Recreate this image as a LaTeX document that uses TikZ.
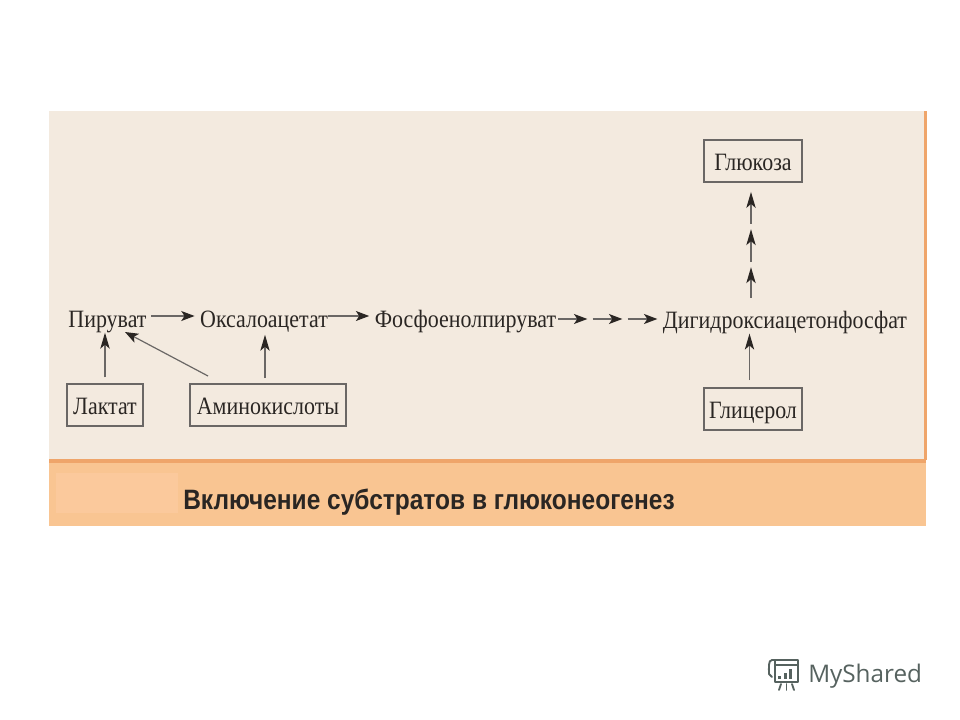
\documentclass[tikz,border=0pt]{standalone}
\usepackage{fontspec}
\setmainfont[FakeStretch=0.88]{Liberation Serif}
\newfontfamily\titlefont[FakeStretch=0.875]{Liberation Sans}
\newfontfamily\logofont{Open Sans}
\usetikzlibrary{arrows.meta}
\definecolor{panel}{HTML}{F3EADF}
\definecolor{band}{HTML}{F9C592}
\definecolor{bandlight}{HTML}{FBC99C}
\definecolor{edge}{HTML}{EFA56A}
\definecolor{ink}{HTML}{2A2623}
\definecolor{logoc}{HTML}{56625F}
\tikzset{
  lab/.style={font=\fontsize{18.7}{20}\selectfont, text=ink, inner sep=0pt, anchor=base},
  boxed/.style={font=\fontsize{18.7}{20}\selectfont, text=ink, inner sep=0pt, anchor=center, text height=16pt, text depth=2pt, draw=ink!70, line width=0.9pt, fill=panel, minimum height=31.5pt},
  arr/.style={draw=ink!70, line width=0.9pt, -{Stealth[length=10pt,width=7.5pt,inset=2.5pt,color=ink,fill=ink]}},
  varr/.style={draw=ink!70, line width=1pt, -{Stealth[length=12pt,width=7pt,inset=3pt,color=ink,fill=ink]}},
  logoline/.style={draw=logoc, line width=1.4pt, line cap=round, line join=round}
}
\begin{document}
\begin{tikzpicture}[x=0.75pt,y=-0.75pt]
\useasboundingbox (0,0) rectangle (960,720);
\fill[white] (0,0) rectangle (960,720);
% panel
\fill[panel] (49,111) rectangle (926,460);
\fill[band] (49,460) rectangle (926,526);
\fill[edge] (49,459) rectangle (926,463);
\fill[edge] (924,111) rectangle (926.5,460);
\fill[bandlight] (56,473) rectangle (178,513);
\node[font=\titlefont\bfseries\fontsize{21}{23}\selectfont, text=ink, inner sep=0pt, anchor=west] (title) at (183,502) {Включение субстратов в глюконеогенез};
% nodes
\node[lab] (pir) at (107.5,327) {Пируват};
\node[lab] (oks) at (264,327) {Оксалоацетат};
\node[lab] (fos) at (465.5,327) {Фосфоенолпируват};
\node[lab] (dig) at (785,328) {Дигидроксиацетонфосфат};
\node[boxed, minimum width=57pt] (lak) at (105,405) {Лактат};
\node[boxed, minimum width=117pt] (ami) at (268,405) {Аминокислоты};
\node[boxed, minimum width=73.5pt] (glu) at (753,161) {Глюкоза};
\node[boxed, minimum width=73.5pt] (gli) at (753,409) {Глицерол};
% chain coordinates
\coordinate (r1) at (0,316);
\coordinate (r2) at (0,319);
\coordinate (h1) at (590,319);
\coordinate (h2) at (625,319);
\coordinate (v1) at (751,264.5);
\coordinate (v2) at (751,226.5);
\coordinate (amis) at (208,376);
\coordinate (pirt) at (125,332);
\coordinate (amix) at (265,384);
\coordinate (glix) at (749.5,388);
% connectors
\draw[arr, shorten <=3.5pt, shorten >=4pt] (pir.east |- r1) -- (oks.west |- r1);
\draw[arr, shorten >=4pt] (oks.east |- r1) -- (fos.west |- r1);
\draw[arr, shorten <=1.5pt, shorten >=2pt] (fos.east |- r2) -- (h1);
\draw[arr, shorten <=2pt, shorten >=2pt] (h1) -- (h2);
\draw[arr, shorten <=2pt, shorten >=4pt] (h2) -- (dig.west |- r2);
\draw[varr, shorten <=4.5pt] (lak.north) -- (lak.north |- pir.south);
\draw[arr] (amis) -- (pirt);
\draw[varr, shorten <=4.5pt, shorten >=2pt] (amix) -- (amix |- oks.south);
\draw[varr, shorten <=6pt] (glix) -- (glix |- dig.south);
\draw[varr, shorten <=9.5pt, shorten >=2pt] (v1 |- dig.north) -- (v1);
\draw[varr, shorten <=2pt, shorten >=2pt] (v1) -- (v2);
\draw[varr, shorten <=2pt, shorten >=7pt] (v2) -- (v1 |- glu.south);
% logo
\draw[logoline] (772,660) -- (798,660) -- (798,665) -- (775,665);
\draw[logoline] (772,660) .. controls (768,660) and (769,668) .. (769,674) -- (772,677);
\draw[logoline] (775,660) -- (775,682) -- (798,682) -- (798,665);
\draw[logoline] (781,684) -- (779,690);
\draw[logoline] (786.5,684) -- (786.5,690);
\draw[logoline] (792,684) -- (794,690);
\fill[logoc] (778,676) rectangle (781,679);
\fill[logoc] (783.5,673) rectangle (786.5,679);
\fill[logoc] (789,669) rectangle (792,679);
\node[font=\logofont\fontsize{18.2}{20}\selectfont, text=logoc, inner sep=0pt, anchor=west] (logo) at (808,676.5) {MyShared};
\end{tikzpicture}
\end{document}
